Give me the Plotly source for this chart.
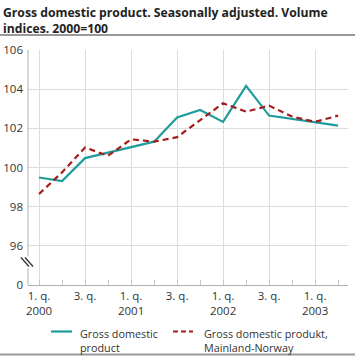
import plotly.graph_objects as go

quarters = ["2000K1", "2000K2", "2000K3", "2000K4",
            "2001K1", "2001K2", "2001K3", "2001K4",
            "2002K1", "2002K2", "2002K3", "2002K4",
            "2003K1", "2003K2"]
tick_labels = ["1. q.<br>2000", "3. q.", "1. q.<br>2001", "3. q.",
               "1. q.<br>2002", "3. q.", "1. q.<br>2003"]
gdp = [99.49, 99.31, 100.48, 100.76, 101.02, 101.32, 102.55,
       102.94, 102.33, 104.17, 102.65, 102.48, 102.33, 102.14]
gdp_mainland = [98.65, 99.75, 101.02, 100.6, 101.44, 101.32, 101.55,
                102.43, 103.28, 102.85, 103.16, 102.6, 102.33, 102.65]
y_ticks = [94, 96, 98, 100, 102, 104, 106]
y_tick_labels = ["0", "96", "98", "100", "102", "104", "106"]
title_text = "Gross domestic product. Seasonally adjusted. Volume<br>indices. 2000=100"
series_names = ["Gross domestic<br>product", "Gross domestic produkt,<br>Mainland-Norway"]
series_colors = ["#1e9c9c", "#a51c1c"]
series_dash = ["solid", "6px,4px"]

x = list(range(len(quarters)))
major = x[::2]

W, H = 355, 357
L, R, T, B = 28, 7, 50, 72


def px(xp):
    return xp / W


def py(yp):
    return 1 - yp / H


fig = go.Figure()
for vals, name, col, dash in zip([gdp, gdp_mainland], series_names, series_colors, series_dash):
    fig.add_trace(go.Scatter(
        x=x, y=vals, mode="lines", name=name, showlegend=False,
        line=dict(color=col, width=2.2, dash=dash), xaxis="x", yaxis="y"))

font_family = "Open Sans, Noto Sans, sans-serif"

fig.update_layout(
    width=W, height=H,
    margin=dict(l=0, r=0, t=0, b=0, pad=0, autoexpand=False),
    paper_bgcolor="white", plot_bgcolor="rgba(0,0,0,0)",
    font=dict(family=font_family, size=11, color="#333333"),
    showlegend=False,
    xaxis=dict(
        domain=[L / W, (W - R) / W], anchor="y",
        range=[-0.48, 13.43], tickmode="array",
        tickvals=major, ticktext=tick_labels,
        showgrid=True, gridcolor="#dcdcdc", gridwidth=1,
        showline=True, linecolor="#b0b0b0", linewidth=1,
        ticks="inside", ticklen=5, tickcolor="#c8c8c8",
        minor=dict(tickmode="array", tickvals=x, ticks="inside", ticklen=5,
                   tickcolor="#c8c8c8", showgrid=False),
        zeroline=False, fixedrange=True, automargin=False,
        tickfont=dict(size=11.5)),
    yaxis=dict(
        domain=[B / H, 1 - T / H], anchor="x",
        range=[94, 106], tickmode="array",
        tickvals=y_ticks, ticktext=y_tick_labels,
        showgrid=True, gridcolor="#dcdcdc", gridwidth=1,
        showline=False, ticks="", zeroline=False, fixedrange=True,
        automargin=False,
        ticklabelstandoff=4, tickfont=dict(size=11.5)),
)

# separator rules (paper coords inside [0, 1] since margins are zero)
for yy in (35, 354.5):
    fig.add_shape(type="line", xref="paper", yref="paper", layer="above",
                  x0=0, x1=1, y0=py(yy), y1=py(yy),
                  line=dict(color="#999999", width=2))

# title
fig.add_annotation(text="<b>" + title_text + "</b>", xref="paper", yref="paper",
                   x=px(1), y=py(2), xanchor="left", yanchor="top",
                   align="left", showarrow=False,
                   font=dict(family=font_family, size=12.2, color="#222222"))

# legend (manual)
leg_x = [51, 173]
leg_text_x = [78, 202]
leg_len = [21, 20]
leg_y = 331.5
for i in range(2):
    fig.add_shape(type="line", xref="paper", yref="paper",
                  x0=px(leg_x[i]), x1=px(leg_x[i] + leg_len[i]),
                  y0=py(leg_y), y1=py(leg_y),
                  line=dict(color=series_colors[i], width=2.2,
                            dash="5px,3px" if i == 1 else "solid"))
    fig.add_annotation(text=series_names[i], xref="paper", yref="paper",
                       x=px(leg_text_x[i]), y=py(leg_y - 8), xanchor="left", yanchor="top",
                       align="left", showarrow=False,
                       font=dict(family=font_family, size=10.8, color="#333333"))

# y-axis line with break
axis_col = "#b0b0b0"
fig.add_shape(type="line", xref="paper", yref="y", x0=L / W, x1=L / W, y0=106, y1=95.45,
              line=dict(color=axis_col, width=1))
fig.add_shape(type="line", xref="paper", yref="y", x0=L / W, x1=L / W, y0=94.85, y1=94,
              line=dict(color=axis_col, width=1))
# break symbol
for dx in (-3, 1):
    fig.add_shape(type="line", xref="paper", yref="y",
                  xsizemode="pixel", ysizemode="pixel",
                  xanchor=L / W, yanchor=95.15,
                  x0=dx - 4, x1=dx + 4, y0=5, y1=-4,
                  line=dict(color="#333333", width=1.3))

fig.write_html("out.html",
               config={"displayModeBar": False},
               post_script="document.body.style.margin='0';document.body.style.padding='0';")
